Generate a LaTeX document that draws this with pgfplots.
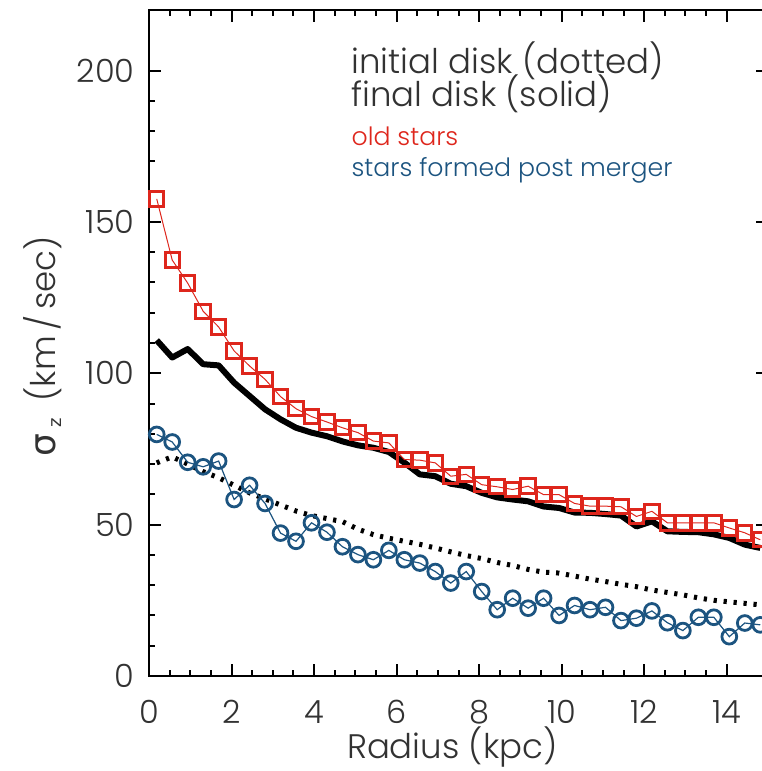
\documentclass[border=0pt]{standalone}
\usepackage{fontspec}
\setmainfont{Poppins}[UprightFont={* Light}]
\newfontfamily\dejavu{DejaVu Sans}
\usepackage{pgfplots}
\usepackage{pgfplotstable}
\pgfplotsset{compat=1.18}
\definecolor{oldred}{RGB}{222,38,28}
\definecolor{newblue}{RGB}{28,84,128}
\definecolor{txtgray}{RGB}{50,50,50}
\pgfplotstableread{
r old final init newst
0.1875 157.6 110.9 70.4 79.8
0.5625 137.4 105.2 72.4 77.3
0.9375 129.8 108.0 70.0 70.6
1.3125 120.5 103.0 67.5 69.1
1.6875 115.3 102.6 65.5 71.0
2.0625 107.4 96.9 63.0 58.3
2.4375 102.4 92.5 60.5 63.0
2.8125 98.0 88.1 58.5 57.0
3.1875 92.3 84.8 56.5 47.2
3.5625 88.3 82.0 54.5 44.5
3.9375 85.7 80.4 53.0 50.6
4.3125 83.9 79.2 52.0 47.5
4.6875 82.0 77.5 51.0 42.7
5.0625 80.4 76.2 48.5 40.1
5.4375 77.6 75.4 46.7 38.4
5.8125 77.0 74.0 45.5 41.5
6.1875 71.5 70.5 44.5 38.4
6.5625 71.3 66.6 43.5 37.3
6.9375 70.4 66.0 42.3 34.5
7.3125 66.0 63.5 41.0 30.7
7.6875 66.6 62.7 39.8 34.5
8.0625 63.2 60.5 38.8 27.9
8.4375 62.5 59.0 37.5 21.9
8.8125 61.6 58.3 36.5 25.7
9.1875 62.7 57.7 35.2 22.4
9.5625 59.9 56.0 34.3 25.7
9.9375 59.9 55.5 34.0 20.0
10.3125 57.0 54.0 33.0 23.3
10.6875 56.1 53.9 32.0 21.9
11.0625 56.1 53.5 31.2 22.7
11.4375 55.9 53.0 30.3 18.3
11.8125 52.7 49.4 29.5 19.1
12.1875 54.4 51.1 28.4 21.5
12.5625 50.6 47.8 27.6 17.6
12.9375 50.6 47.6 26.8 15.0
13.3125 50.6 47.5 25.8 19.4
13.6875 50.6 46.8 25.0 19.4
14.0625 48.9 45.6 24.5 13.0
14.4375 47.3 43.4 24.0 17.5
14.8125 45.0 42.3 23.5 16.9
}\datatab
\begin{document}
\begin{tikzpicture}
\useasboundingbox (-74.5bp,-47.5bp) rectangle (306.5bp,338bp);
\begin{axis}[
  scale only axis, width=309.5bp, height=333bp,
  xmin=0, xmax=15, ymin=0, ymax=220,
  xtick={0,2,...,14}, minor x tick num=3,
  ytick={0,50,...,200}, minor y tick num=4,
  major tick length=6bp, minor tick length=3bp,
  every tick/.style={line width=1bp, black},
  axis line style={line width=1.2bp, black},
  /pgf/number format/assume math mode=true,
  ticklabel style={font=\fontsize{16bp}{18bp}\selectfont, text=txtgray, inner sep=0pt},
  xticklabel style={anchor=base, yshift=-23.5bp},
  yticklabel style={anchor=east, xshift=-7bp},
  label style={font=\fontsize{17bp}{19bp}\selectfont, text=txtgray, inner sep=0pt},
  xlabel={Radius (kpc)},
  xlabel style={at={(axis description cs:0.49,0)}, anchor=base, yshift=-41bp},
  ylabel={{\dejavu\fontsize{18bp}{19bp}\selectfont σ\,\raisebox{-0.3ex}{\fontsize{9bp}{10bp}\selectfont z}}\enspace (km\,/\,sec)},
  ylabel style={at={(axis description cs:-0.172,0.495)}, anchor=center},
]
\addplot[black, line width=2.5bp, dash pattern=on 1.6bp off 3.4bp] table[x=r, y=init] {\datatab};
\addplot[black, line width=3bp, line join=round] table[x=r, y=final] {\datatab};
\addplot[oldred, line width=0.5bp, mark=square, mark size=3.6bp, mark options={line width=1.5bp, solid}] table[x=r, y=old] {\datatab};
\addplot[newblue, line width=0.6bp, mark=o, mark size=3.7bp, mark options={line width=1.4bp, solid}] table[x=r, y=newst] {\datatab};
\node[anchor=base west, inner sep=0pt, text=txtgray, font=\fontsize{17bp}{19bp}\selectfont] at (axis cs:4.9,199) {initial disk (dotted)};
\node[anchor=base west, inner sep=0pt, text=txtgray, font=\fontsize{17bp}{19bp}\selectfont] at (axis cs:4.9,188) {final disk (solid)};
\node[anchor=base west, inner sep=0pt, text=oldred, font=\fontsize{12.6bp}{14bp}\selectfont] at (axis cs:4.9,175.2) {old stars};
\node[anchor=base west, inner sep=0pt, text=newblue, font=\fontsize{12.6bp}{14bp}\selectfont] at (axis cs:4.9,164.9) {stars formed post merger};
\end{axis}
\end{tikzpicture}
\end{document}
